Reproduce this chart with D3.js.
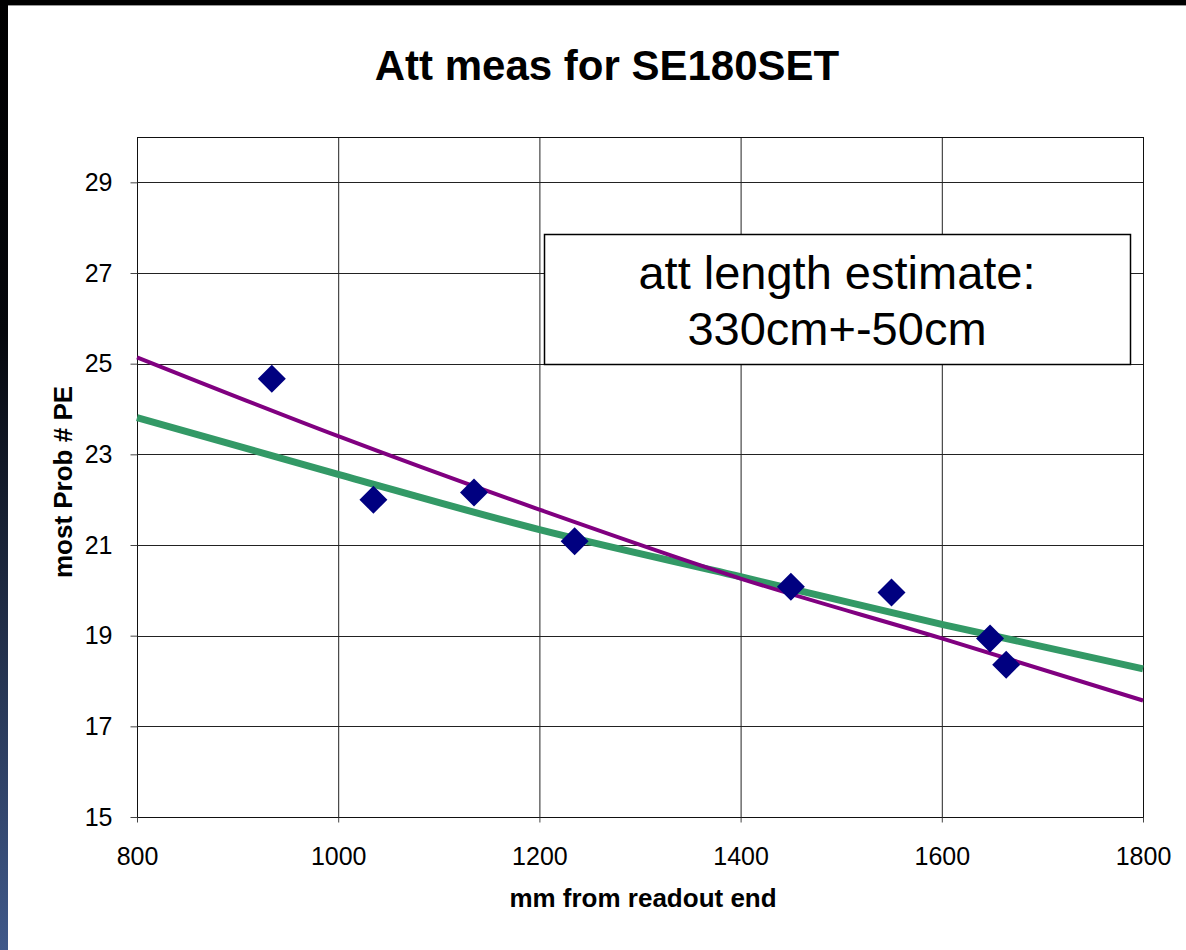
<html>
<script src="https://d3js.org/d3.v7.min.js"></script>
<style>
  body { margin: 0; background: #fff; }
  text { font-family: "Liberation Sans", Arial, sans-serif; }
</style>
<body>
<svg id="chart" width="1186" height="950"></svg>
<script>
// measured points (mm from readout end, most probable # PE)
var posMm = [934, 1035, 1135, 1235, 1450, 1550, 1648, 1664];
var peVals = [24.67, 22.0, 22.16, 21.08, 20.08, 19.95, 18.94, 18.36];

// trend lines, values at every 200 mm
var trendX = [800, 1000, 1200, 1400, 1600, 1800];
var purpleTrend = [25.14, 23.40, 21.78, 20.26, 18.94, 17.57];
var greenTrend = [23.81, 22.56, 21.34, 20.30, 19.25, 18.27];

var xTicks = [800, 1000, 1200, 1400, 1600, 1800];
var yTicks = [15, 17, 19, 21, 23, 25, 27, 29];
var boxLines = ["att length estimate:", "330cm+-50cm"];

var svg = d3.select("#chart");

// dark frame on the top and left edges
var grad = svg.append("defs").append("linearGradient")
  .attr("id", "edge").attr("x1", 0).attr("y1", 0).attr("x2", 0).attr("y2", 1);
grad.append("stop").attr("offset", "0%").attr("stop-color", "#000");
grad.append("stop").attr("offset", "35%").attr("stop-color", "#05070c");
grad.append("stop").attr("offset", "100%").attr("stop-color", "#40598a");
svg.append("rect").attr("x", 0).attr("y", 0).attr("width", 1186).attr("height", 5).attr("fill", "#000");
svg.append("rect").attr("x", 0).attr("y", 0).attr("width", 8).attr("height", 950).attr("fill", "url(#edge)");
svg.append("line").attr("x1", 8).attr("x2", 1186).attr("y1", 5.5).attr("y2", 5.5)
  .attr("stroke", "#999").attr("stroke-width", 1);

var pLeft = 137, pRight = 1143, pTop = 137, pBottom = 817;

var x = d3.scaleLinear().domain([800, 1800]).range([pLeft, pRight]);
var y = d3.scaleLinear().domain([15, 30]).range([pBottom, pTop]);

// grid
svg.append("g").selectAll("line").data(xTicks.slice(1, -1)).enter().append("line")
  .attr("x1", d => x(d) + 0.5).attr("x2", d => x(d) + 0.5)
  .attr("y1", pTop).attr("y2", pBottom)
  .attr("stroke", "#222").attr("stroke-width", 1);
svg.append("g").selectAll("line").data(yTicks.slice(1)).enter().append("line")
  .attr("x1", pLeft).attr("x2", pRight)
  .attr("y1", d => Math.round(y(d)) + 0.5).attr("y2", d => Math.round(y(d)) + 0.5)
  .attr("stroke", "#222").attr("stroke-width", 1);

svg.append("rect").attr("x", pLeft + 0.5).attr("y", pTop + 0.5)
  .attr("width", pRight - pLeft).attr("height", pBottom - pTop)
  .attr("fill", "none").attr("stroke", "#111").attr("stroke-width", 1);

// axes
var yAxis = svg.append("g").attr("transform", "translate(" + (pLeft + 0.5) + ",0)")
  .call(d3.axisLeft(y).tickValues(yTicks).tickSize(7).tickPadding(18));
var xAxis = svg.append("g").attr("transform", "translate(0," + (pBottom + 0.5) + ")")
  .call(d3.axisBottom(x).tickValues(xTicks).tickSize(5).tickPadding(25).tickFormat(d3.format("d")));
[xAxis, yAxis].forEach(function(a) {
  a.attr("font-size", null).attr("font-family", null);
  a.select(".domain").remove();
  a.selectAll("line").attr("stroke", "#444");
  a.selectAll("text").attr("fill", "#000")
    .style("font-size", "25px")
    .style("font-family", "'Liberation Sans', Arial, sans-serif");
});

// trend lines
var line = d3.line().x((d, i) => x(trendX[i])).y(d => y(d)).curve(d3.curveMonotoneX);
svg.append("path").datum(greenTrend).attr("d", line)
  .attr("fill", "none").attr("stroke", "#339966").attr("stroke-width", 7);
svg.append("path").datum(purpleTrend).attr("d", line)
  .attr("fill", "none").attr("stroke", "#800080").attr("stroke-width", 4);

// diamonds
var sym = d3.symbol().type(d3.symbolSquare).size(392);
svg.append("g").selectAll("path").data(posMm).enter().append("path")
  .attr("d", sym)
  .attr("transform", (d, i) => "translate(" + x(d) + "," + y(peVals[i]) + ") rotate(45)")
  .attr("fill", "#000080");

// text box
svg.append("rect").attr("x", 544.5).attr("y", 234.5).attr("width", 586).attr("height", 130)
  .attr("fill", "#fff").attr("stroke", "#000").attr("stroke-width", 1.5);
svg.append("g").selectAll("text").data(boxLines).enter().append("text")
  .attr("x", 837).attr("y", (d, i) => 289 + i * 56)
  .attr("text-anchor", "middle").attr("font-size", 47).text(d => d);

// titles
svg.append("text").attr("x", 607).attr("y", 80).attr("text-anchor", "middle")
  .attr("font-size", 42).attr("font-weight", "bold").text("Att meas for SE180SET");
svg.append("text").attr("x", 643).attr("y", 907).attr("text-anchor", "middle")
  .attr("font-size", 26).attr("font-weight", "bold").text("mm from readout end");
svg.append("text").attr("transform", "translate(72,482) rotate(-90)")
  .attr("text-anchor", "middle").attr("font-size", 26).attr("font-weight", "bold")
  .text("most Prob # PE");
</script>
</body>
</html>
